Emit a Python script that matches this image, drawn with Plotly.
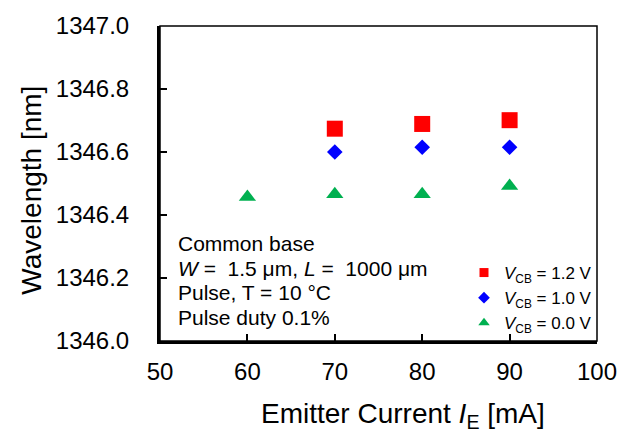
import plotly.graph_objects as go

current_12 = [70, 80, 90]
wl_12 = [1346.674, 1346.689, 1346.701]
current_10 = [70, 80, 90]
wl_10 = [1346.600, 1346.615, 1346.615]
current_00 = [60, 70, 80, 90]
wl_00 = [1346.457, 1346.466, 1346.466, 1346.492]

series_names = ["<i>V</i><sub>CB</sub> = 1.2 V",
                "<i>V</i><sub>CB</sub> = 1.0 V",
                "<i>V</i><sub>CB</sub> = 0.0 V"]

x_ticks = [50, 60, 70, 80, 90, 100]
y_ticks = [1346.0, 1346.2, 1346.4, 1346.6, 1346.8, 1347.0]
y_tick_text = ["1346.0", "1346.2", "1346.4", "1346.6", "1346.8", "1347.0"]

x_title = "Emitter Current <i>I</i><sub>E</sub> [mA]"
y_title = "Wavelength [nm]"

note_lines = [
    "Common base",
    "<i>W</i> =  1.5 μm, <i>L</i> =  1000 μm",
    "Pulse, T = 10 °C",
    "Pulse duty 0.1%",
]

FONT = "Arial, Liberation Sans, sans-serif"

# plot area in pixels (for placing annotations)
PL, PR, PT, PB = 160, 605, 17, 341
W, H = 629, 434

def px(xp):
    return (xp - PL) / (PR - PL)

def py(yp):
    return (PB - yp) / (PB - PT)

styles = [
    dict(symbol="square", size=16, color="#FF0000"),
    dict(symbol="diamond", size=12, color="#0000FF"),
    dict(symbol="triangle-up", size=15, color="#00B050"),
]
legend_sizes = [9, 9, 10]
data = [(current_12, wl_12), (current_10, wl_10), (current_00, wl_00)]

fig = go.Figure()
for (xs, ys), st, nm in zip(data, styles, series_names):
    fig.add_trace(go.Scatter(x=xs, y=ys, mode="markers", name=nm,
                             legendgroup=nm, showlegend=False,
                             marker=dict(symbol=st["symbol"], size=st["size"],
                                         color=st["color"])))
# legend-only entries (smaller symbols, as in the reference legend)
for st, nm, ls in zip(styles, series_names, legend_sizes):
    fig.add_trace(go.Scatter(x=[None], y=[None], mode="markers", name=nm,
                             legendgroup=nm, showlegend=True,
                             marker=dict(symbol=st["symbol"], size=ls,
                                         color=st["color"])))

for i, t in enumerate(note_lines):
    fig.add_annotation(text=t, xref="paper", yref="paper",
                       x=px(176), y=py(240.7 + 25.3 * i),
                       xanchor="left", yanchor="middle", showarrow=False,
                       font=dict(size=21, color="black", family=FONT))

# axis titles
fig.add_annotation(text=x_title, xref="paper", yref="paper",
                   x=px(407), y=py(418), xanchor="center", yanchor="middle",
                   showarrow=False, font=dict(size=28, color="black", family=FONT))
fig.add_annotation(text=y_title, xref="paper", yref="paper",
                   x=px(29), y=py(186), xanchor="center", yanchor="middle",
                   textangle=-90, showarrow=False,
                   font=dict(size=28, color="black", family=FONT))

fig.add_shape(type="rect", xref="paper", yref="paper", x0=0, x1=1, y0=0, y1=1,
              line=dict(color="black", width=1.5), layer="above")

fig.update_layout(
    width=W, height=H,
    margin=dict(l=PL, r=W - PR, t=PT, b=H - PB),
    plot_bgcolor="white", paper_bgcolor="white",
    font=dict(family=FONT, color="black"),
    showlegend=True,
    legend=dict(x=1.0, xanchor="right", y=0.0, yanchor="bottom",
                font=dict(size=17, family=FONT), bgcolor="rgba(0,0,0,0)",
                itemwidth=30, tracegroupgap=0),
    xaxis=dict(range=[50, 100], tickvals=x_ticks, ticks="inside", ticklen=7,
               tickwidth=2, tickcolor="black", showline=True, linewidth=3,
               linecolor="black", showgrid=False, zeroline=False,
               tickfont=dict(size=24), ticklabelstandoff=7),
    yaxis=dict(range=[1346.0, 1347.0], tickvals=y_ticks, ticktext=y_tick_text,
               ticks="inside", ticklen=7, tickwidth=2, tickcolor="black",
               showline=True, linewidth=3, linecolor="black", showgrid=False,
               zeroline=False, tickfont=dict(size=24), ticklabelstandoff=23),
)

fig.write_html("out.html")
